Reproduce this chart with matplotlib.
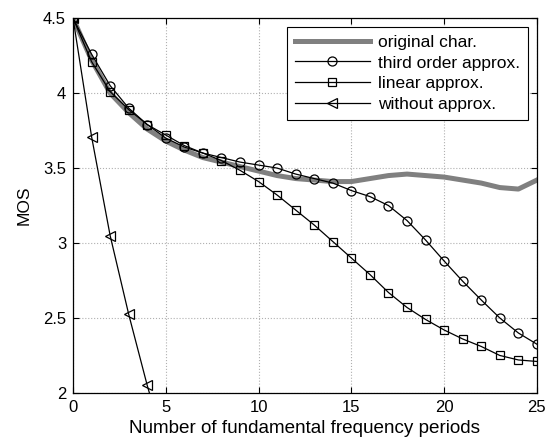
import numpy as np
import matplotlib
matplotlib.use("Agg")
import matplotlib.pyplot as plt

plt.rcParams["font.family"] = ["Liberation Sans", "DejaVu Sans"]

# dane
x = np.arange(0, 26)
orig = [4.50, 4.22, 4.00, 3.87, 3.76, 3.68, 3.62, 3.57, 3.54, 3.51, 3.48,
        3.45, 3.43, 3.42, 3.41, 3.41, 3.43, 3.45, 3.46, 3.45, 3.44, 3.42,
        3.40, 3.37, 3.36, 3.42]
third = [4.50, 4.26, 4.05, 3.90, 3.79, 3.70, 3.64, 3.60, 3.57, 3.54, 3.52,
         3.50, 3.46, 3.43, 3.40, 3.35, 3.31, 3.25, 3.15, 3.02, 2.88, 2.745,
         2.62, 2.50, 2.40, 2.325]
linear = [4.50, 4.21, 4.01, 3.89, 3.79, 3.72, 3.65, 3.60, 3.55, 3.485, 3.41,
          3.32, 3.22, 3.12, 3.01, 2.90, 2.79, 2.67, 2.57, 2.49, 2.42, 2.36,
          2.31, 2.25, 2.22, 2.21]
x_wo = np.arange(0, 6)
without = [4.50, 3.71, 3.05, 2.525, 2.05, 1.62]

fig = plt.figure(figsize=(5.49, 4.43), dpi=100)
ax = fig.add_axes([0.133, 0.113, 0.845, 0.846])

ax.plot(x, orig, color="#808080", lw=3.6, label="original char.", zorder=2)
ax.plot(x, third, "-ok", lw=0.9, ms=6.5, mfc="none", mew=0.9,
        label="third order approx.", zorder=3)
ax.plot(x, linear, "-sk", lw=0.9, ms=5.5, mfc="none", mew=0.9,
        label="linear approx.", zorder=3)
ax.plot(x_wo, without, "-<k", lw=0.9, ms=7, mfc="none", mew=0.9,
        label="without approx.", zorder=3)

ax.set_xlim(0, 25)
ax.set_ylim(2, 4.5)
ax.set_xticks([0, 5, 10, 15, 20, 25])
ax.set_yticks([2, 2.5, 3, 3.5, 4, 4.5])
ax.set_yticklabels(["2", "2.5", "3", "3.5", "4", "4.5"])
ax.tick_params(direction="in", top=True, right=True, labelsize=12,
               length=4, width=0.8, pad=5)
ax.grid(True, ls=":", color="#b0b0b0", lw=0.8)
for s in ax.spines.values():
    s.set_linewidth(0.9)

ax.set_xlabel("Number of fundamental frequency periods", fontsize=13.6,
              labelpad=4)
ax.set_ylabel("MOS", fontsize=12.5, labelpad=8)

leg = ax.legend(loc="upper right", fontsize=12.5, numpoints=1,
                handlelength=4.3, fancybox=False, framealpha=1,
                edgecolor="black", borderpad=0.45, labelspacing=0.32,
                borderaxespad=0.5, handletextpad=0.5)
leg.get_frame().set_linewidth(0.8)

fig.savefig("out.png", dpi=100)
